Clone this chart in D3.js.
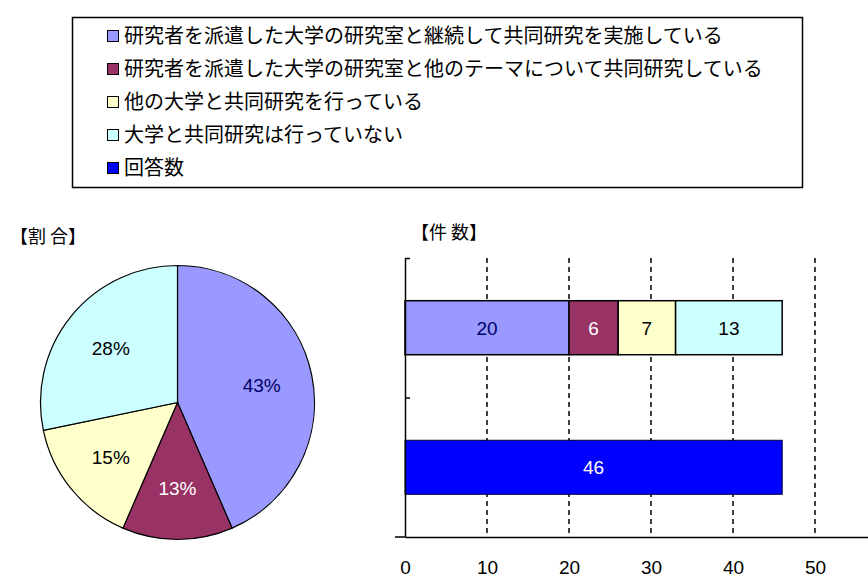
<!DOCTYPE html>
<html>
<head>
<meta charset="utf-8">
<title></title>
<style>
  body { margin: 0; background: #fff; }
  text { font-family: "Noto Sans CJK JP", sans-serif; }
  .num { font-family: "Liberation Sans Narrow", "Liberation Sans", Arial, sans-serif; font-size: 19px; }
  .grid line { stroke: #000; stroke-width: 1.5; stroke-dasharray: 5,4; }
</style>
</head>
<body>
<svg width="868" height="578"></svg>
<script src="https://cdn.jsdelivr.net/npm/d3@7"></script>
<script>

// data
var categories = [
  "研究者を派遣した大学の研究室と継続して共同研究を実施している",
  "研究者を派遣した大学の研究室と他のテーマについて共同研究している",
  "他の大学と共同研究を行っている",
  "大学と共同研究は行っていない"
];
var counts = [20, 6, 7, 13];
var totalLabel = "回答数";
var totalCount = [46];
var colors = ["#9999ff", "#993366", "#ffffcc", "#ccffff"];
var totalColor = "#0000ff";
var labelColors = ["#000066", "#ffffff", "#000000", "#000000"];
var xTicks = [0, 10, 20, 30, 40, 50];

var svg = d3.select("svg");

// legend
var legend = svg.append("g");
legend.append("rect")
  .attr("x", 72.5).attr("y", 17.5)
  .attr("width", 730).attr("height", 170)
  .attr("fill", "#fff").attr("stroke", "#000").attr("stroke-width", 1.5);

var legendItems = categories.map(function(c, i) { return {name: c, color: colors[i]}; })
  .concat([{name: totalLabel, color: totalColor}]);

var li = legend.selectAll("g.item")
  .data(legendItems)
  .enter().append("g")
  .attr("class", "item")
  .attr("transform", function(d, i) { return "translate(0," + (36 + i * 33) + ")"; });

li.append("rect")
  .attr("x", 107.5).attr("y", -5.5)
  .attr("width", 11).attr("height", 11)
  .attr("fill", function(d) { return d.color; })
  .attr("stroke", "#000");

li.append("text")
  .attr("x", 124).attr("dy", "0.36em")
  .style("font-size", "20px")
  .text(function(d) { return d.name; });

// pie
svg.append("text")
  .attr("x", 10).attr("y", 237).attr("dy", "0.36em")
  .style("font-size", "18px")
  .text("【割 合】");

var pieG = svg.append("g").attr("transform", "translate(177.5,402.5)");
var radius = 137;
var pie = d3.pie().sort(null);
var arc = d3.arc().innerRadius(0).outerRadius(radius);
var labelArc = d3.arc().innerRadius(86).outerRadius(86);
var total = d3.sum(counts);

var slices = pie(counts);
pieG.selectAll("path")
  .data(slices)
  .enter().append("path")
  .attr("d", arc)
  .attr("fill", function(d, i) { return colors[i]; })
  .attr("stroke", "#000")
  .attr("stroke-width", 1.2);

pieG.selectAll("text")
  .data(slices)
  .enter().append("text")
  .attr("class", "num")
  .attr("transform", function(d) { return "translate(" + labelArc.centroid(d) + ")"; })
  .attr("text-anchor", "middle")
  .attr("dy", "0.36em")
  .attr("fill", function(d, i) { return labelColors[i]; })
  .text(function(d) { return Math.round(d.value / total * 100) + "%"; });

// bars
svg.append("text")
  .attr("x", 411).attr("y", 233).attr("dy", "0.36em")
  .style("font-size", "18px")
  .text("【件 数】");

var x = d3.scaleLinear().domain([0, 60]).range([405, 897]);
var y = d3.scaleBand().domain(["breakdown", "total"]).range([258, 537])
  .paddingInner(0.613).paddingOuter(0.306);
var yEdges = d3.scaleLinear().domain([0, 2]).range([258, 537]);

// grid
svg.append("g")
  .attr("class", "grid")
  .selectAll("line")
  .data(xTicks.slice(1))
  .enter().append("line")
  .attr("x1", function(d) { return x(d); })
  .attr("x2", function(d) { return x(d); })
  .attr("y1", 258).attr("y2", 537);

// stacked bar
var stackData = [];
var acc = 0;
counts.forEach(function(v, i) {
  stackData.push({x0: acc, x1: acc + v, v: v, i: i});
  acc += v;
});

var bar1 = svg.append("g");
bar1.selectAll("rect")
  .data(stackData)
  .enter().append("rect")
  .attr("x", function(d) { return x(d.x0); })
  .attr("width", function(d) { return x(d.x1) - x(d.x0); })
  .attr("y", y("breakdown"))
  .attr("height", y.bandwidth())
  .attr("fill", function(d) { return colors[d.i]; })
  .attr("stroke", "#000")
  .attr("stroke-width", 1.5);

bar1.selectAll("text")
  .data(stackData)
  .enter().append("text")
  .attr("class", "num")
  .attr("x", function(d) { return (x(d.x0) + x(d.x1)) / 2; })
  .attr("y", y("breakdown") + y.bandwidth() / 2)
  .attr("dy", "0.36em")
  .attr("text-anchor", "middle")
  .attr("fill", function(d) { return labelColors[d.i]; })
  .text(function(d) { return d.v; });

var bar2 = svg.append("g");
bar2.selectAll("rect")
  .data(totalCount)
  .enter().append("rect")
  .attr("x", x(0))
  .attr("width", function(d) { return x(d) - x(0); })
  .attr("y", y("total"))
  .attr("height", y.bandwidth())
  .attr("fill", totalColor)
  .attr("stroke", "#000033");

bar2.selectAll("text")
  .data(totalCount)
  .enter().append("text")
  .attr("class", "num")
  .attr("x", function(d) { return (x(0) + x(d)) / 2; })
  .attr("y", y("total") + y.bandwidth() / 2)
  .attr("dy", "0.36em")
  .attr("text-anchor", "middle")
  .attr("fill", "#fff")
  .text(function(d) { return d; });

// axes
var xAxis = svg.append("g")
  .attr("transform", "translate(0,537)")
  .call(d3.axisBottom(x).tickValues(xTicks).tickSize(0).tickPadding(24).tickSizeOuter(0));
xAxis.select(".domain").attr("stroke-width", 1.5);
xAxis.selectAll("text").attr("class", "num").style("font-size", "19px").attr("fill", "#000");

svg.append("line")
  .attr("x1", 395).attr("x2", 405).attr("y1", 537).attr("y2", 537)
  .attr("stroke", "#000").attr("stroke-width", 1.5);

var yAxis = svg.append("g")
  .attr("transform", "translate(405,0)")
  .call(d3.axisRight(yEdges).tickValues([0, 1]).tickSize(5).tickSizeOuter(0).tickFormat(""));
yAxis.select(".domain").attr("stroke-width", 1.5);
yAxis.selectAll(".tick line").attr("stroke-width", 1.5);

</script>
</body>
</html>
